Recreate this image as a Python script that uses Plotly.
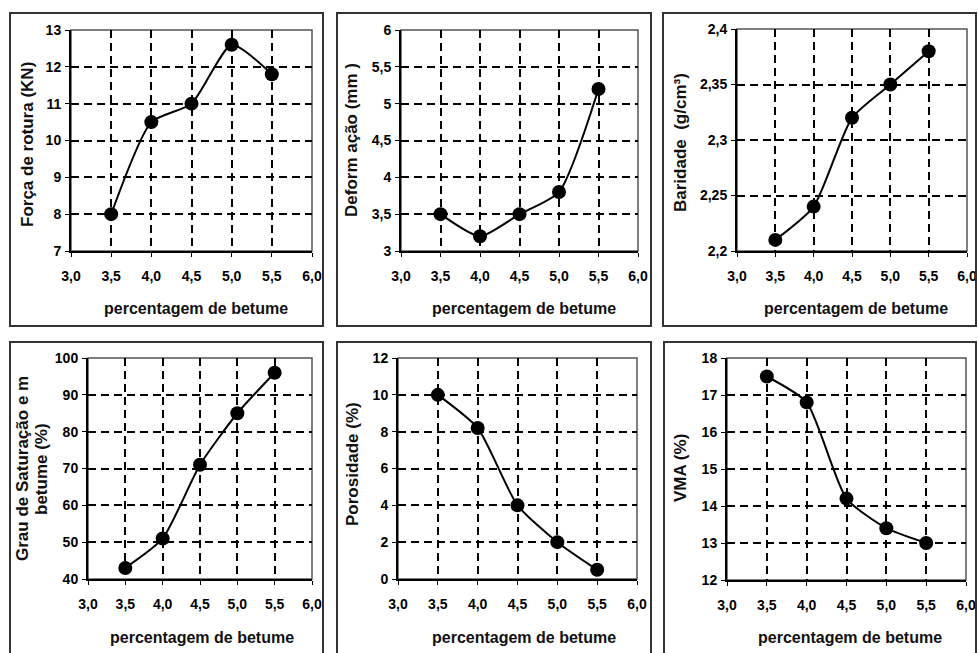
import plotly.graph_objects as go

W, H = 978, 653

# Bitumen content shared by all six tests
betume = [3.5, 4.0, 4.5, 5.0, 5.5]
x_ticks = [3.0, 3.5, 4.0, 4.5, 5.0, 5.5, 6.0]
x_title = "percentagem de betume"

forca_rotura = [8.0, 10.5, 11.0, 12.6, 11.8]
deformacao = [3.5, 3.2, 3.5, 3.8, 5.2]
baridade = [2.21, 2.24, 2.32, 2.35, 2.38]
grau_saturacao = [43, 51, 71, 85, 96]
porosidade = [10.0, 8.2, 4.0, 2.0, 0.5]
vma = [17.5, 16.8, 14.2, 13.4, 13.0]

# plot: (left, right, top, bottom) px; box: outer frame px
# ytitle: list of (text, x_center_px); xt: x-title centre (x, y) px
panels = [
    dict(y=forca_rotura, rng=[7, 13], dt=1,
         ytitle=[("Força de rotura (KN)", 27)], yc=145, xt=(196, 308),
         plot=(71, 312, 30, 251), box=(10, 323, 13, 326)),
    dict(y=deformacao, rng=[3, 6], dt=0.5,
         ytitle=[("Deform ação (mm )", 352)], yc=140, xt=(524, 308),
         plot=(401, 638, 30, 251), box=(337, 651, 13, 326)),
    dict(y=baridade, rng=[2.2, 2.4], dt=0.05,
         ytitle=[("Baridade  (g/cm³)", 680)], yc=143, xt=(856, 308),
         plot=(737, 967, 29, 251), box=(663, 976, 13, 326)),
    dict(y=grau_saturacao, rng=[40, 100], dt=10,
         ytitle=[("Grau de Saturação e m", 22), ("betume (%)", 41)], yc=469, xt=(202, 637),
         plot=(88, 312, 358, 579), box=(10, 323, 342, 668)),
    dict(y=porosidade, rng=[0, 12], dt=2,
         ytitle=[("Porosidade (%)", 352)], yc=464, xt=(524, 637),
         plot=(398, 637, 358, 579), box=(337, 651, 342, 668)),
    dict(y=vma, rng=[12, 18], dt=1,
         ytitle=[("VMA (%)", 680)], yc=468, xt=(850, 637),
         plot=(727, 966, 358, 580), box=(664, 976, 342, 668)),
]

FONT = "Liberation Sans"
INK = "#000"
fig = go.Figure()
shapes = []
annotations = []


def px(v):
    return v / W


def py(v):
    return 1 - v / H


for i, p in enumerate(panels, start=1):
    xa = "x" if i == 1 else f"x{i}"
    ya = "y" if i == 1 else f"y{i}"
    x0, x1, y0, y1 = p["plot"]
    fig.add_trace(go.Scatter(
        x=betume, y=p["y"], xaxis=xa, yaxis=ya, mode="lines+markers",
        line=dict(color="black", width=2, shape="spline", smoothing=0.6),
        marker=dict(color="black", size=14),
        showlegend=False, cliponaxis=False, hoverinfo="x+y"))

    common = dict(showgrid=True, gridcolor="black", griddash="8px,5px", gridwidth=1.5,
                  showline=True, linecolor="black", linewidth=2,
                  ticks="outside", ticklen=4, tickcolor="black", tickwidth=1,
                  zeroline=False, fixedrange=True, automargin=False)
    fig.layout[f"xaxis{'' if i == 1 else i}"] = dict(
        common, domain=[px(x0), px(x1)], range=[3.0, 6.0],
        tickvals=x_ticks, tickformat=".1f", anchor=ya, ticklabelstandoff=7)
    fig.layout[f"yaxis{'' if i == 1 else i}"] = dict(
        common, domain=[py(y1), py(y0)], range=p["rng"], dtick=p["dt"],
        tick0=p["rng"][0], anchor=xa, ticklabelstandoff=1)

    # axis titles
    for text, xc in p["ytitle"]:
        annotations.append(dict(
            text=f"<b>{text}</b>", x=px(xc), y=py(p["yc"]), xref="paper", yref="paper",
            textangle=-90, showarrow=False, xanchor="center", yanchor="middle",
            font=dict(family=FONT, size=17, color="#111")))
    annotations.append(dict(
        text=f"<b>{x_title}</b>", x=px(p["xt"][0]), y=py(p["xt"][1]),
        xref="paper", yref="paper", showarrow=False,
        xanchor="center", yanchor="middle",
        font=dict(family=FONT, size=16, color="#111")))

    # frame on the top and right of the plot area
    shapes.append(dict(type="rect", xref="paper", yref="paper", layer="below",
                       x0=px(x0), x1=px(x1), y0=py(y1), y1=py(y0),
                       line=dict(color="#555", width=1.5)))
    # outer panel border
    bx0, bx1, by0, by1 = p["box"]
    shapes.append(dict(type="rect", xref="paper", yref="paper",
                       x0=px(bx0), x1=px(bx1), y0=py(by1), y1=py(by0),
                       line=dict(color="#333", width=2)))

# bold tick labels on every axis
tick_font = dict(family=FONT, size=14, color=INK, weight="bold")
fig.update_xaxes(tickfont=tick_font)
fig.update_yaxes(tickfont=tick_font)

fig.update_layout(
    width=W, height=H,
    margin=dict(l=0, r=0, t=0, b=0, pad=0, autoexpand=False),
    paper_bgcolor="white", plot_bgcolor="white",
    separators=",.", shapes=shapes, annotations=annotations,
    font=dict(family=FONT, color="#111"))

fig.write_html("out.html")
